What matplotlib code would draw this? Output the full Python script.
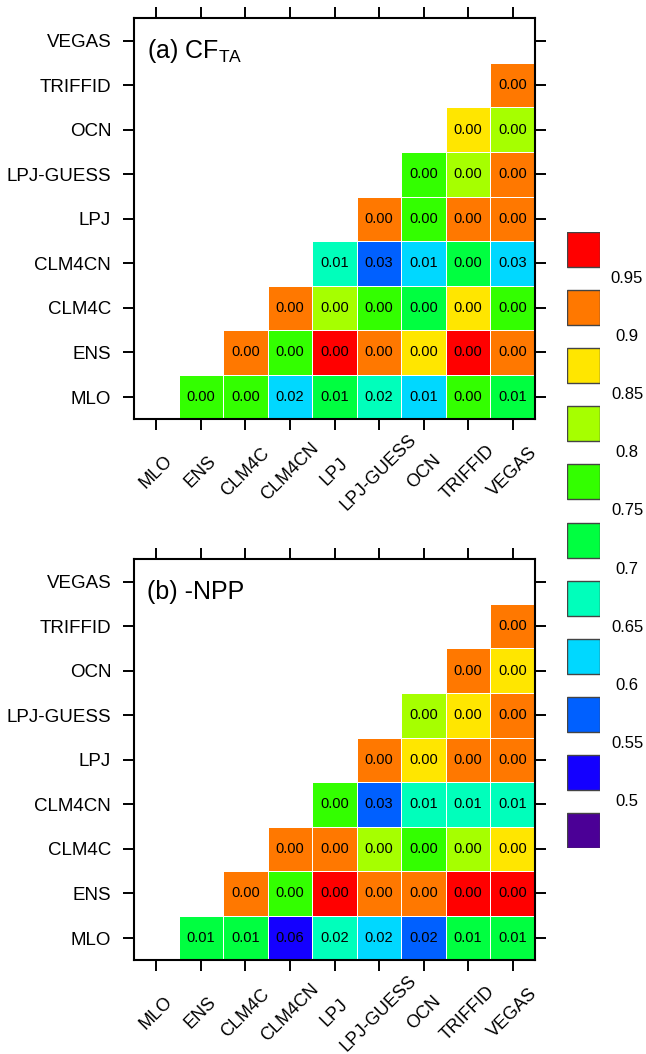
import numpy as np
import matplotlib
matplotlib.use("Agg")
import matplotlib.pyplot as plt
from matplotlib.colors import ListedColormap, BoundaryNorm

plt.rcParams['font.family'] = ['Liberation Sans', 'DejaVu Sans']
plt.rcParams['mathtext.fontset'] = 'custom'
plt.rcParams['mathtext.rm'] = 'Liberation Sans'

models = ["MLO", "ENS", "CLM4C", "CLM4CN", "LPJ", "LPJ-GUESS", "OCN", "TRIFFID", "VEGAS"]
nan = np.nan

# correlation (colour) for each pair, row = y model, column = x model
cfta_r = [
    [nan, 0.78, 0.77, 0.63, 0.73, 0.68, 0.62, 0.78, 0.72],
    [nan, nan, 0.93, 0.77, 0.97, 0.92, 0.88, 0.96, 0.93],
    [nan, nan, nan, 0.91, 0.83, 0.78, 0.74, 0.87, 0.77],
    [nan, nan, nan, nan, 0.68, 0.58, 0.62, 0.73, 0.61],
    [nan, nan, nan, nan, nan, 0.92, 0.77, 0.91, 0.93],
    [nan, nan, nan, nan, nan, nan, 0.79, 0.82, 0.91],
    [nan, nan, nan, nan, nan, nan, nan, 0.88, 0.84],
    [nan, nan, nan, nan, nan, nan, nan, nan, 0.92],
    [nan, nan, nan, nan, nan, nan, nan, nan, nan],
]
npp_r = [
    [nan, 0.73, 0.72, 0.52, 0.67, 0.63, 0.57, 0.72, 0.73],
    [nan, nan, 0.93, 0.78, 0.97, 0.93, 0.92, 0.96, 0.96],
    [nan, nan, nan, 0.92, 0.91, 0.83, 0.77, 0.82, 0.87],
    [nan, nan, nan, nan, 0.78, 0.58, 0.68, 0.69, 0.67],
    [nan, nan, nan, nan, nan, 0.93, 0.88, 0.92, 0.91],
    [nan, nan, nan, nan, nan, nan, 0.84, 0.87, 0.93],
    [nan, nan, nan, nan, nan, nan, nan, 0.91, 0.88],
    [nan, nan, nan, nan, nan, nan, nan, nan, 0.92],
    [nan, nan, nan, nan, nan, nan, nan, nan, nan],
]

# p-values printed in the cells
cfta_p = [
    [nan, 0.00, 0.00, 0.02, 0.01, 0.02, 0.01, 0.00, 0.01],
    [nan, nan, 0.00, 0.00, 0.00, 0.00, 0.00, 0.00, 0.00],
    [nan, nan, nan, 0.00, 0.00, 0.00, 0.00, 0.00, 0.00],
    [nan, nan, nan, nan, 0.01, 0.03, 0.01, 0.00, 0.03],
    [nan, nan, nan, nan, nan, 0.00, 0.00, 0.00, 0.00],
    [nan, nan, nan, nan, nan, nan, 0.00, 0.00, 0.00],
    [nan, nan, nan, nan, nan, nan, nan, 0.00, 0.00],
    [nan, nan, nan, nan, nan, nan, nan, nan, 0.00],
    [nan, nan, nan, nan, nan, nan, nan, nan, nan],
]
npp_p = [
    [nan, 0.01, 0.01, 0.06, 0.02, 0.02, 0.02, 0.01, 0.01],
    [nan, nan, 0.00, 0.00, 0.00, 0.00, 0.00, 0.00, 0.00],
    [nan, nan, nan, 0.00, 0.00, 0.00, 0.00, 0.00, 0.00],
    [nan, nan, nan, nan, 0.00, 0.03, 0.01, 0.01, 0.01],
    [nan, nan, nan, nan, nan, 0.00, 0.00, 0.00, 0.00],
    [nan, nan, nan, nan, nan, nan, 0.00, 0.00, 0.00],
    [nan, nan, nan, nan, nan, nan, nan, 0.00, 0.00],
    [nan, nan, nan, nan, nan, nan, nan, nan, 0.00],
    [nan, nan, nan, nan, nan, nan, nan, nan, nan],
]

levels = [0.5, 0.55, 0.6, 0.65, 0.7, 0.75, 0.8, 0.85, 0.9, 0.95]
level_labels = ["0.5", "0.55", "0.6", "0.65", "0.7", "0.75", "0.8", "0.85", "0.9", "0.95"]
colors = ['#4B0096', '#1400FF', '#0060FF', '#00D8FF', '#00FFBB',
          '#00FF40', '#33FF00', '#A6FF00', '#FFE600', '#FF7800', '#FF0000']

cmap = ListedColormap(colors)
norm = BoundaryNorm([0.0] + levels + [1.01], cmap.N)

fig = plt.figure(figsize=(6.46, 10.54), dpi=100)
W, H = 646.0, 1054.0


def panel(rect, r, p, title):
    ax = fig.add_axes(rect)
    r = np.ma.masked_invalid(np.array(r, dtype=float))
    p = np.array(p, dtype=float)
    edges = np.arange(len(models) + 1) - 0.5
    ax.pcolormesh(edges, edges, r, cmap=cmap, norm=norm,
                  edgecolors='white', linewidth=0.6)
    for j in range(len(models)):
        for i in range(len(models)):
            if not np.isnan(p[j, i]):
                ax.text(i, j, "%.2f" % p[j, i], ha='center', va='center',
                        fontsize=10.5)
    ax.set_xlim(-0.5, len(models) - 0.5)
    ax.set_ylim(-0.5, len(models) - 0.5)
    ax.set_xticks(range(len(models)))
    ax.set_yticks(range(len(models)))
    ax.set_xticklabels(models, rotation=45, ha='center', va='center',
                       rotation_mode='anchor', fontsize=13)
    ax.set_yticklabels(models, fontsize=13.5)
    ax.tick_params(direction='out', length=8, width=1.4, top=True, right=True)
    ax.tick_params(axis='x', pad=30)
    ax.tick_params(axis='y', pad=8.4)
    for s in ax.spines.values():
        s.set_linewidth(1.5)
    ax.text(0.032, 0.90, title, transform=ax.transAxes, fontsize=18,
            ha='left', va='baseline')
    return ax


panel([134 / W, 1 - 419.3 / H, 401 / W, 401 / H], cfta_r, cfta_p,
      r"(a) $\mathrm{CF}_{\mathrm{TA}}$")
panel([134 / W, 1 - 960.3 / H, 401 / W, 401 / H], npp_r, npp_p,
      "(b) -NPP")

# label bar: separated boxes, labels in the gaps
slot, box, top = 58.1, 35.0, 232.0
total = slot * (len(colors) - 1) + box
cax = fig.add_axes([567 / W, 1 - (top + total) / H, 33 / W, total / H])
cax.set_xlim(0, 1)
cax.set_ylim(total, 0)
for k, c in enumerate(colors[::-1]):
    cax.bar(0.5, box, width=1.0, bottom=k * slot, color=c,
            edgecolor='#444444', linewidth=1.0)
for k, lab in enumerate(level_labels[::-1]):
    cax.text(1.82, k * slot + box + (slot - box) / 2, lab, ha='center',
             va='center', fontsize=12, clip_on=False)
cax.axis('off')

fig.savefig("out.png", dpi=100)
